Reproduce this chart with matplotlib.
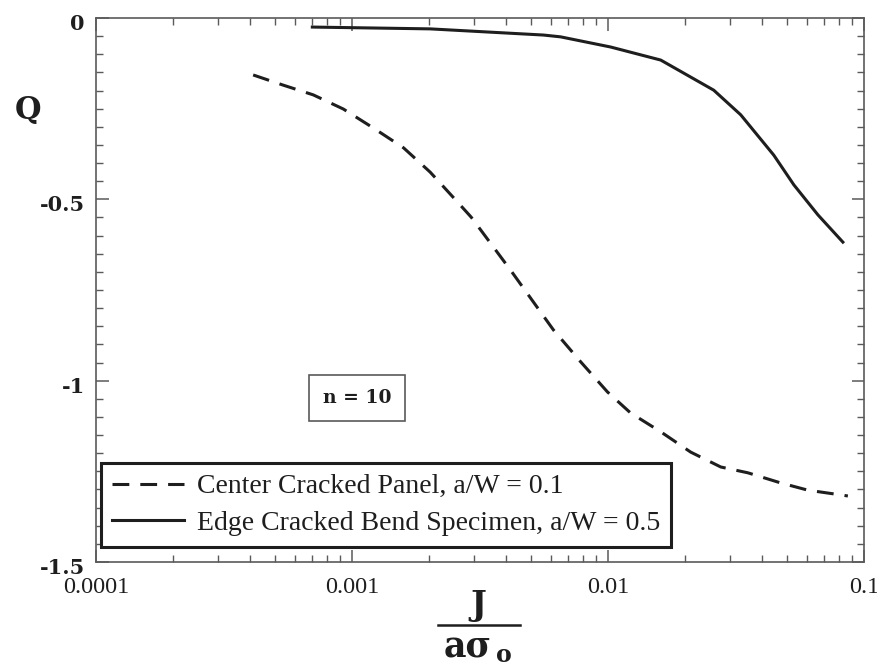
import matplotlib
matplotlib.use("Agg")
import matplotlib.pyplot as plt
import matplotlib.transforms as mtransforms
from matplotlib.ticker import LogLocator, MultipleLocator, FixedLocator, NullFormatter
from matplotlib.lines import Line2D

# Center cracked panel, a/W = 0.1 (dashed)
ccp_x = [0.000411, 0.000538, 0.000706, 0.000925, 0.00121, 0.00159, 0.00202,
         0.00258, 0.00292, 0.00416, 0.00612, 0.00782, 0.00995, 0.01225, 0.01607,
         0.02104, 0.02757, 0.03516, 0.0473, 0.0604, 0.0812, 0.0865]
ccp_q = [-0.157, -0.185, -0.212, -0.251, -0.303, -0.358, -0.425,
         -0.507, -0.549, -0.695, -0.860, -0.948, -1.031, -1.089, -1.141,
         -1.197, -1.238, -1.254, -1.282, -1.302, -1.315, -1.318]

# Edge cracked bend specimen, a/W = 0.5 (solid)
ecb_x = [0.000700, 0.00202, 0.00560, 0.00653, 0.01024, 0.01607, 0.02588,
         0.0330, 0.0444, 0.0532, 0.0661, 0.0827]
ecb_q = [-0.025, -0.030, -0.047, -0.052, -0.080, -0.116, -0.199,
         -0.267, -0.378, -0.460, -0.543, -0.618]

x_ticks = [0.0001, 0.001, 0.01, 0.1]
x_labels = ["0.0001", "0.001", "0.01", "0.1"]
y_ticks = [0, -0.5, -1, -1.5]
y_labels = ["0", "-0.5", "-1", "-1.5"]

serif = "Liberation Serif"
bold_serif = "DejaVu Serif"
ink = "#1e1e1e"
axc = "#5a5a5a"

fig = plt.figure(figsize=(8.77, 6.68), dpi=100)
ax = fig.add_axes([96 / 877, 1 - 562 / 668, (864 - 96) / 877, (562 - 18) / 668])

l1, = ax.plot(ccp_x, ccp_q, color=ink, lw=2.2, linestyle=(0, (5.5, 3.6)))
l2, = ax.plot(ecb_x, ecb_q, color=ink, lw=2.2)

ax.set_xscale("log")
ax.set_xlim(0.0001, 0.1)
ax.set_ylim(-1.5, 0)

ax.xaxis.set_major_locator(FixedLocator(x_ticks))
ax.xaxis.set_minor_locator(LogLocator(base=10, subs=range(2, 10)))
ax.xaxis.set_minor_formatter(NullFormatter())
ax.set_xticklabels(x_labels, fontfamily=serif, fontsize=17.5, color=ink)

ax.yaxis.set_major_locator(FixedLocator(y_ticks))
ax.yaxis.set_minor_locator(MultipleLocator(0.05))
ax.set_yticklabels(y_labels, fontfamily=bold_serif, fontsize=15, fontweight="bold", color=ink)

ax.tick_params(which="both", direction="in", top=True, right=True, color=axc)
ax.tick_params(which="major", length=9, width=1.1)
ax.tick_params(which="minor", length=5, width=1.0)
ax.tick_params(axis="x", pad=11)
ax.tick_params(axis="y", pad=8)
for s in ax.spines.values():
    s.set_color(axc)
    s.set_linewidth(1.2)

# the y labels sit a few pixels below their ticks in the original
shift = mtransforms.ScaledTranslation(0, -4 / 100, fig.dpi_scale_trans)
for tick in ax.yaxis.get_major_ticks():
    tick.label1.set_transform(tick.label1.get_transform() + shift)

# Q label
fig.text(28 / 877, 1 - 110 / 668, "Q", fontfamily=bold_serif, fontsize=22, fontweight="bold",
         color=ink, ha="center", va="center")

# J / (a sigma_o) label
fig.text(478 / 877, 1 - 606 / 668, "J", fontfamily=bold_serif, fontsize=24, fontweight="bold",
         color=ink, ha="center", va="center")
fig.add_artist(Line2D([438 / 877, 520 / 877], [1 - 625 / 668, 1 - 625 / 668],
                      color=ink, lw=1.8))
fig.text(468 / 877, 1 - 648 / 668, "aσ", fontfamily=bold_serif, fontsize=25, fontweight="bold",
         color=ink, ha="center", va="center")
fig.text(504 / 877, 1 - 655 / 668, "o", fontfamily=bold_serif, fontsize=17, fontweight="bold",
         color=ink, ha="center", va="center")

# n = 10 box
ax.text(357 / 877, 1 - 398 / 668, "n = 10", transform=fig.transFigure, fontfamily=bold_serif,
        fontsize=13.5, fontweight="bold", color=ink, ha="center", va="center",
        bbox=dict(boxstyle="square,pad=0.75", fc="white", ec=axc, lw=1.2))

leg = ax.legend([l1, l2], ["Center Cracked Panel, a/W = 0.1",
                           "Edge Cracked Bend Specimen, a/W = 0.5"],
                loc="lower left", bbox_to_anchor=(101 / 877, 1 - 547 / 668),
                bbox_transform=fig.transFigure, prop={"family": serif, "size": 20},
                fancybox=False, edgecolor=ink, framealpha=1, borderaxespad=0,
                handlelength=2.6, handletextpad=0.45, borderpad=0.4, labelspacing=0.4)
leg.get_frame().set_linewidth(2.2)
for t in leg.get_texts():
    t.set_color(ink)

fig.savefig("out.png", dpi=100)
